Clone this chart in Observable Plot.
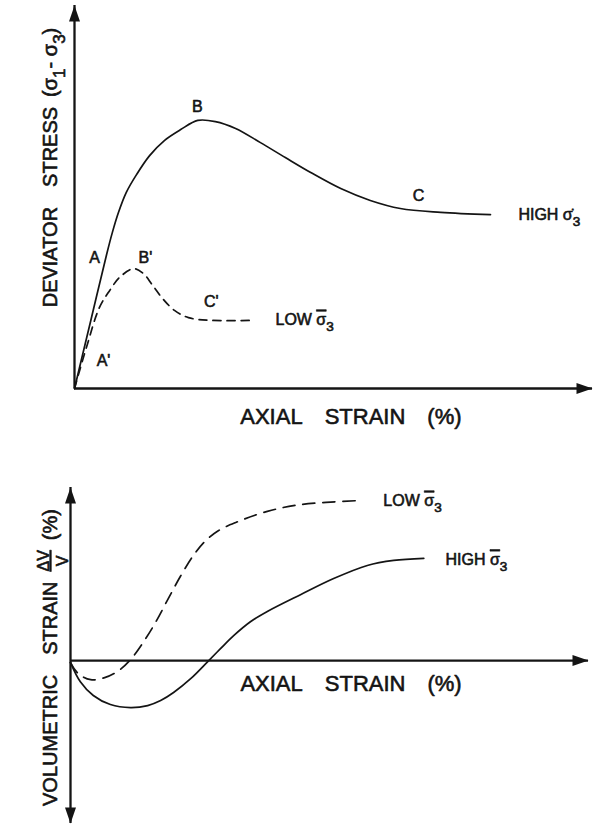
<!DOCTYPE html>
<html>
<head>
<meta charset="utf-8">
<script src="https://cdn.jsdelivr.net/npm/d3@7"></script>
<script src="https://cdn.jsdelivr.net/npm/@observablehq/plot@0.6"></script>
<style>
  html, body { margin: 0; padding: 0; background: #fff; }
  #chart svg { display: block; }
</style>
</head>
<body>
<div id="chart"></div>
<script>
// Positions are in relative units: 0–100 along each drawn axis.

// ---- Upper panel: deviator stress vs axial strain ----
const highStrain = [0, 3.1, 6.2, 7.3, 8.5, 10, 12, 14.5, 17.4, 20.5, 23.8, 27.2, 31.1, 35.9, 40.7, 45.6, 51.4, 57.1, 62.9, 70.7, 80.3];
const highStress = [0, 17.5, 35, 40.7, 46, 51.2, 55.9, 60.8, 64.8, 67.6, 70, 69.7, 67.9, 64.2, 60.3, 56.4, 52.2, 49.1, 47, 46, 45.4];
const lowStrain = [0, 2.3, 4.8, 6.8, 8.7, 11.4, 13.3, 15.1, 17.0, 19.3, 22.0, 26.3, 34.6];
const lowStress = [0, 10.7, 21.1, 25.6, 29, 31.3, 30.0, 26.9, 23.5, 20.4, 18.5, 17.8, 17.8];

const stressXAxis = [0, 100];
const stressYAxis = [0, 100];

const pointNames = ["A", "B", "C", "A'", "B'", "C'"];
const pointX = [3.9, 23.7, 66.4, 5.6, 13.7, 26.4];
const pointY = [34.2, 73.6, 50.4, 7.3, 34.2, 22.5];

const stressCurveNames = ["HIGH σ\u0307_3", "LOW ^σ_3"];
const stressCurveX = [85.7, 38.8];
const stressCurveY = [45.4, 18];

// ---- Lower panel: volumetric strain vs axial strain ----
const volHighStrain = [0, 1.9, 4.4, 7.7, 11.6, 14.9, 17.4, 19.9, 23.2, 26.5, 29, 31.5, 34.8, 38, 44.4, 50.8, 57.3, 62.4, 68.2];
const volHighValue = [-0.6, -6.3, -10.4, -13.1, -14, -13.4, -11.9, -9.5, -5.4, -0.3, 3.6, 7.4, 11.6, 14.6, 19.6, 24.4, 28.3, 29.8, 30.4];
const volLowStrain = [0, 1.5, 3.9, 6.6, 9.3, 11.6, 13.9, 16.4, 18.9, 21.2, 23.6, 25.9, 28.6, 31.9, 38, 44.4, 55.6];
const volLowValue = [-0.6, -3.9, -5.7, -5.1, -3, 0.3, 5.1, 11.3, 18.5, 25, 31, 35.4, 38.7, 41.1, 44.4, 46.4, 47.6];

const volXAxis = [0, 100];
const volYAxis = [-48.5, 51.5];

const volCurveNames = ["LOW ^σ_3", "HIGH ^σ_3"];
const volCurveX = [60.4, 72.4];
const volCurveY = [47.6, 30.1];

// ---- Axis titles ----
const strainTitle = "AXIAL\u2002\u2002STRAIN\u2002\u2002(%)";
const stressTitle = "DEVIATOR\u2002\u2002STRESS\u2002(σ_1- σ_3)";
const volTitle = "VOLUMETRIC\u2002\u2002STRAIN\u2002{ΔV|V}\u2002(%)";

const INK = "#141414";
const FONT = "'Liberation Sans', Arial, Helvetica, sans-serif";

// Filled arrowhead with its tip at the anchor point, pointing up before rotation.
const arrowHead = {
  draw(context) {
    const len = 16, half = 5.5;
    context.moveTo(0, 0);
    context.lineTo(half, len);
    context.lineTo(-half, len);
    context.closePath();
  }
};

const pts = (xs, ys) => xs.map((x, i) => ({x, y: ys[i]}));
const labels = (names, xs, ys) => names.map((text, i) => ({text, x: xs[i], y: ys[i]}));

function axesMarks(xAxis, yAxis, arrows) {
  return [
    Plot.ruleX([{x: 0, y1: yAxis[0], y2: yAxis[1]}], {x: "x", y1: "y1", y2: "y2", stroke: INK, strokeWidth: 2.3}),
    Plot.ruleY([{y: 0, x1: xAxis[0], x2: xAxis[1]}], {y: "y", x1: "x1", x2: "x2", stroke: INK, strokeWidth: 2.3}),
    Plot.dot(arrows, {x: "x", y: "y", rotate: "a", symbol: arrowHead, fill: INK, stroke: "none"})
  ];
}

const textStyle = {fill: INK, stroke: INK, strokeWidth: 0.6};

const stressPlot = Plot.plot({
  width: 600,
  height: 450,
  margin: 0,
  style: {fontFamily: FONT, background: "#fff", overflow: "visible"},
  x: {domain: [0, 100], range: [74, 592], axis: null},
  y: {domain: [0, 100], range: [388, 5], axis: null},
  marks: [
    ...axesMarks(stressXAxis, stressYAxis, [
      {x: 0, y: stressYAxis[1], a: 0},
      {x: stressXAxis[1], y: 0, a: 90}
    ]),
    Plot.line(pts(highStrain, highStress), {x: "x", y: "y", curve: "catmull-rom", stroke: INK, strokeWidth: 1.7}),
    Plot.line(pts(lowStrain, lowStress), {x: "x", y: "y", curve: "catmull-rom", stroke: INK, strokeWidth: 1.7, strokeDasharray: "8,6"}),
    Plot.text(labels(pointNames, pointX, pointY), {x: "x", y: "y", text: "text", fontSize: 16, ...textStyle}),
    Plot.text(labels(stressCurveNames, stressCurveX, stressCurveY), {x: "x", y: "y", text: "text", fontSize: 16, textAnchor: "start", ...textStyle}),
    Plot.text([{text: strainTitle, x: 32, y: -7.3}], {x: "x", y: "y", text: "text", fontSize: 22, textAnchor: "start", ...textStyle}),
    Plot.text([{text: stressTitle, x: -4.6, y: 57.7}], {x: "x", y: "y", text: "text", fontSize: 20, rotate: -90, ...textStyle})
  ]
});

const volPlot = Plot.plot({
  width: 600,
  height: 377,
  margin: 0,
  style: {fontFamily: FONT, background: "#fff", overflow: "visible"},
  x: {domain: [0, 100], range: [70, 588], axis: null},
  y: {domain: volYAxis, range: [373, 37], axis: null},
  marks: [
    ...axesMarks(volXAxis, volYAxis, [
      {x: 0, y: volYAxis[1], a: 0},
      {x: 0, y: volYAxis[0], a: 180},
      {x: volXAxis[1], y: 0, a: 90}
    ]),
    Plot.line(pts(volHighStrain, volHighValue), {x: "x", y: "y", curve: "catmull-rom", stroke: INK, strokeWidth: 1.7}),
    Plot.line(pts(volLowStrain, volLowValue), {x: "x", y: "y", curve: "catmull-rom", stroke: INK, strokeWidth: 1.7, strokeDasharray: "12,8"}),
    Plot.text(labels(volCurveNames, volCurveX, volCurveY), {x: "x", y: "y", text: "text", fontSize: 16, textAnchor: "start", ...textStyle}),
    Plot.text([{text: strainTitle, x: 32.8, y: -7.1}], {x: "x", y: "y", text: "text", fontSize: 22, textAnchor: "start", ...textStyle}),
    Plot.text([{text: volTitle, x: -3.9, y: 0.9}], {x: "x", y: "y", text: "text", fontSize: 20, rotate: -90, ...textStyle})
  ]
});

const host = document.getElementById("chart");
host.append(stressPlot, volPlot);

// Rich label text: "^c" overlines a character, "_c" sets a subscript,
// "{num|den}" sets a stacked fraction.
function setRichText(svg) {
  d3.select(svg).selectAll("text").each(function () {
    const el = this;
    const src = el.textContent;
    if (!/[\^_{]/.test(src)) return;
    const tokens = src.match(/\{[^}]*\}|\^.\u0307?|_.|[^{^_]+/gu);
    const fs = parseFloat(getComputedStyle(el).fontSize);
    el.textContent = "";
    let cur = 0;
    const add = (str, opts = {}) => {
      const t = d3.select(el).append("tspan").text(str);
      const target = opts.shift || 0;
      if (target !== cur) t.attr("dy", target - cur);
      cur = target;
      if (opts.size) t.attr("font-size", opts.size);
      if (opts.deco) t.style("text-decoration", opts.deco);
      if (opts.dx) t.attr("dx", opts.dx);
      return t;
    };
    let pendingDx = 0;
    for (const tok of tokens) {
      if (tok[0] === "{") {
        const [num, den] = tok.slice(1, -1).split("|");
        const n = add(num, {shift: -0.4 * fs, size: 0.8 * fs, deco: "underline", dx: pendingDx || null});
        const wn = n.node().getComputedTextLength();
        const d = add(den, {shift: 0.55 * fs, size: 0.8 * fs});
        const wd = d.node().getComputedTextLength();
        d.attr("dx", -(wn + wd) / 2);
        pendingDx = (wn - wd) / 2;
      } else if (tok[0] === "^") {
        add(tok.slice(1), {shift: 0, deco: "overline", dx: pendingDx || null});
        pendingDx = 0;
      } else if (tok[0] === "_") {
        add(tok.slice(1), {shift: 0.38 * fs, size: 0.85 * fs, dx: pendingDx || null});
        pendingDx = 0;
      } else {
        add(tok, {shift: 0, dx: pendingDx || null});
        pendingDx = 0;
      }
    }
  });
}
setRichText(stressPlot);
setRichText(volPlot);
</script>
</body>
</html>
